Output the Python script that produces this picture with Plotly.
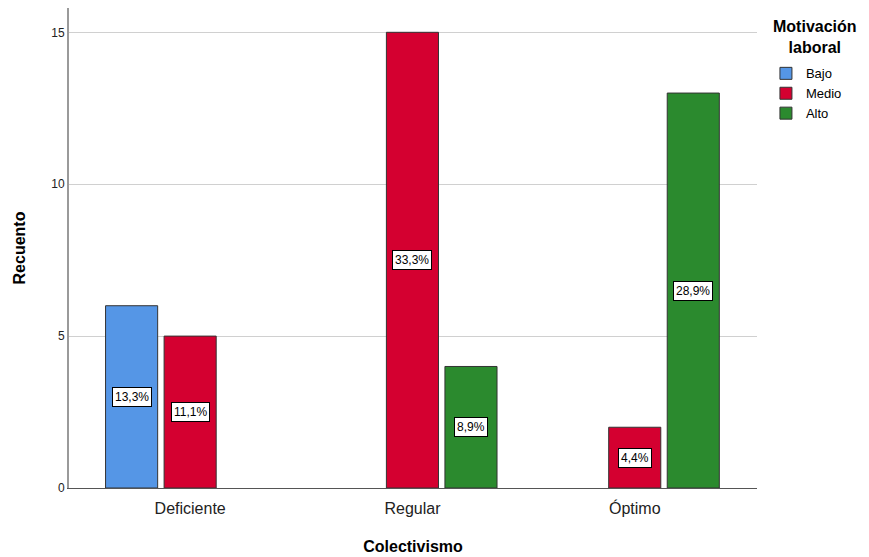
import plotly.graph_objects as go

# Recuento de casos por nivel de colectivismo y motivación laboral
categorias = ["Deficiente", "Regular", "Óptimo"]
series = ["Bajo", "Medio", "Alto"]
bajo = [6, None, None]
medio = [5, 15, 2]
alto = [None, 4, 13]
etiquetas = {
    "Bajo": ["13,3%", None, None],
    "Medio": ["11,1%", "33,3%", "4,4%"],
    "Alto": [None, "8,9%", "28,9%"],
}
valores = {"Bajo": bajo, "Medio": medio, "Alto": alto}
colores = {"Bajo": "#5596E6", "Medio": "#D40030", "Alto": "#2B8A2E"}
ticks_y = [0, 5, 10, 15]

FONT = "Liberation Sans, Arial, sans-serif"
BARGAP = 0.21
BARGROUPGAP = 0.11

fig = go.Figure()
for s in series:
    fig.add_trace(go.Bar(
        name=s,
        x=categorias,
        y=valores[s],
        marker=dict(color=colores[s], line=dict(color="#333333", width=1)),
    ))

# Etiquetas de porcentaje centradas en cada barra
slot = (1 - BARGAP) / len(series)
for j, s in enumerate(series):
    for i, (v, t) in enumerate(zip(valores[s], etiquetas[s])):
        if v is None or t is None:
            continue
        fig.add_annotation(
            x=i + (j - 1) * slot, y=v / 2, text=t, showarrow=False,
            font=dict(family=FONT, size=12, color="#000000"),
            bgcolor="#FFFFFF", bordercolor="#000000", borderwidth=1, borderpad=2,
        )

# Título de la leyenda, centrado sobre los elementos
fig.add_annotation(
    xref="paper", yref="paper", x=1.085, y=0.983, xanchor="center", yanchor="top",
    text="<b>Motivación<br>laboral</b>", showarrow=False, align="center",
    font=dict(size=16, family=FONT, color="#000000"),
)

fig.update_layout(
    width=869, height=557,
    margin=dict(l=69, r=112, t=8, b=69, autoexpand=False),
    paper_bgcolor="#FFFFFF", plot_bgcolor="#FFFFFF",
    barmode="group", bargap=BARGAP, bargroupgap=BARGROUPGAP,
    font=dict(family=FONT, color="#000000"),
    legend=dict(
        x=1.013, y=0.895, xanchor="left", yanchor="top",
        font=dict(size=13, family=FONT),
        itemwidth=30, tracegroupgap=0,
    ),
    xaxis=dict(
        range=[-0.545, 2.55],
        showline=True, linecolor="#555555", linewidth=1,
        ticks="outside", ticklen=6, tickcolor="rgba(0,0,0,0)",
        tickfont=dict(size=16, family=FONT, color="#222222"),
        title=dict(text="<b>Colectivismo</b>", font=dict(size=16, family=FONT), standoff=24),
    ),
    yaxis=dict(
        range=[0, 15.8],
        tickvals=ticks_y,
        showline=True, linecolor="#9A9A9A", linewidth=2,
        showgrid=True, gridcolor="#D0D0D0", gridwidth=1,
        zeroline=False,
        ticks="", tickfont=dict(size=12, family=FONT, color="#222222"),
        title=dict(text="<b>Recuento</b>", font=dict(size=16, family=FONT), standoff=22),
    ),
)

fig.write_html("out.html")
